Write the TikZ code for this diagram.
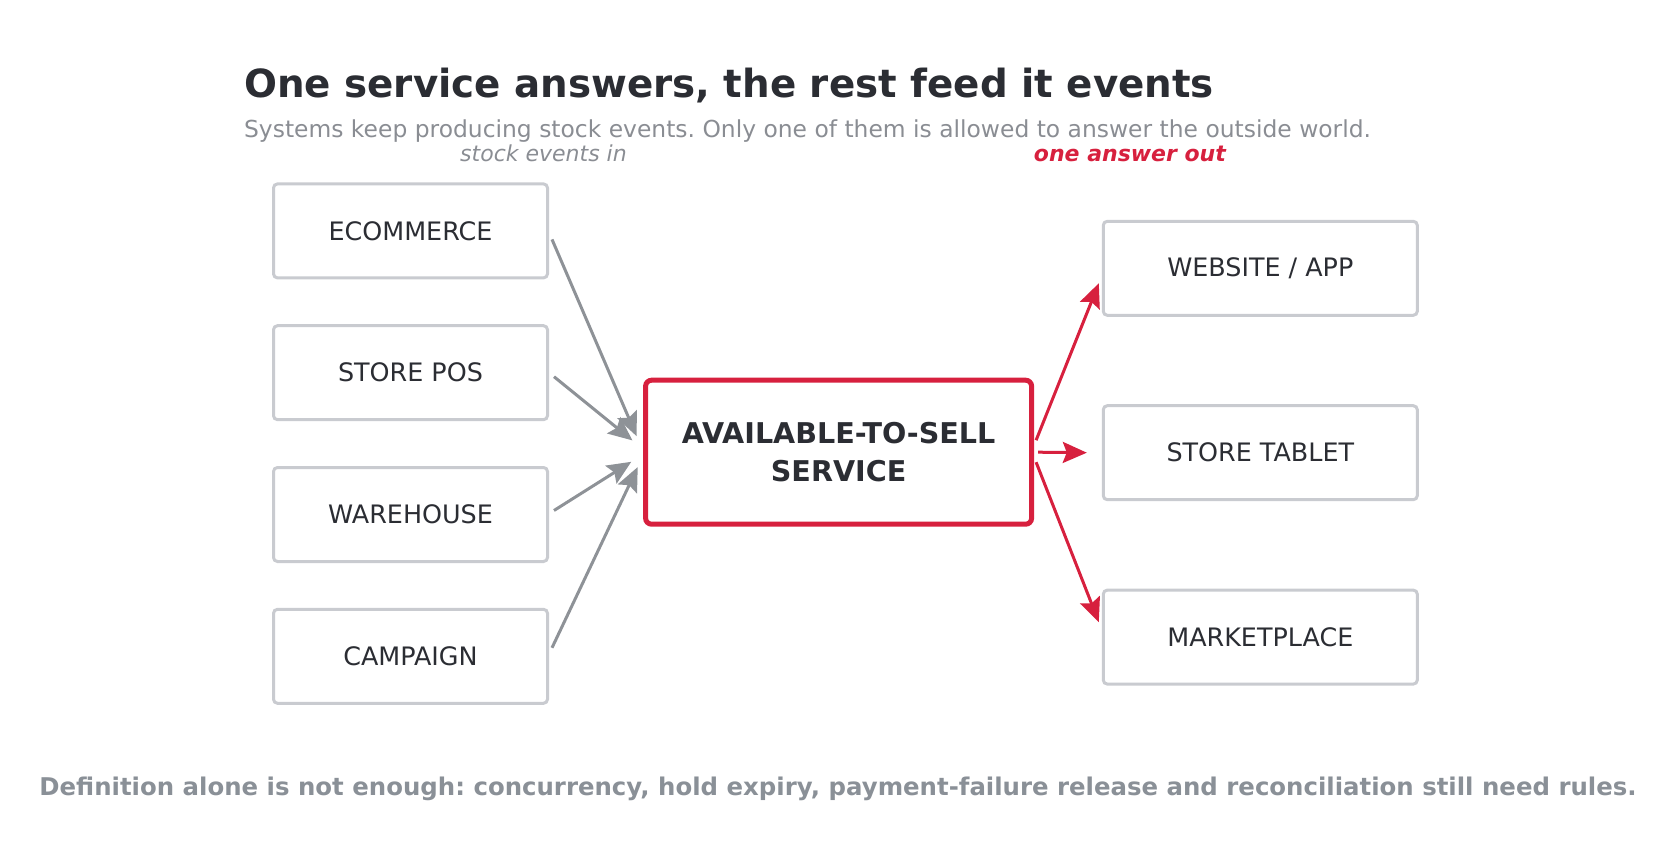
\documentclass[tikz,border=0pt]{standalone}
\usepackage{fontspec}
\setmainfont{DejaVu Sans}
\frenchspacing
\usetikzlibrary{positioning, arrows.meta, calc}
\definecolor{inkdark}{HTML}{2B2D33}
\definecolor{subgray}{HTML}{8A8D93}
\definecolor{notegray}{HTML}{8A9097}
\definecolor{boxgray}{HTML}{C9CBD0}
\definecolor{flowgray}{HTML}{8E9297}
\definecolor{atsred}{HTML}{D7203E}
\tikzset{
    src/.style={rectangle, rounded corners=2pt, draw=boxgray, fill=white, line width=1.5pt, minimum width=137pt, minimum height=47pt, text=inkdark, font=\fontsize{12.7}{15}\selectfont},
    dst/.style={src, minimum width=157pt},
    hub/.style={rectangle, rounded corners=3pt, draw=atsred, fill=white, line width=2.5pt, minimum width=193pt, minimum height=72pt, text=inkdark, align=center, font=\bfseries\fontsize{14.3}{19.2}\selectfont},
    feed/.style={-{Stealth[length=12pt,width=10.5pt,inset=2pt]}, color=flowgray, line width=1.5pt},
    answer/.style={feed, color=atsred},
}

\begin{document}
\begin{tikzpicture}[x=0.5pt, y=-0.5pt]
        \useasboundingbox (0,0) rectangle (1676,856);
        % headings
        \node [anchor=base west, inner sep=0pt, text=inkdark, font=\bfseries\fontsize{19.4}{23}\selectfont] (title) at (243.7,97.3) {One service answers, the rest feed it events};
        \node [anchor=base west, inner sep=0pt, text=subgray, font=\fontsize{11.7}{14}\selectfont] (subtitle) at (243.7,137.9) {Systems keep producing stock events. Only one of them is allowed to answer the outside world.};
        \node [anchor=base, text=subgray, font=\itshape\fontsize{11}{13}\selectfont] (inlabel) at (543.5,161.4) {stock events in};
        \node [anchor=base, text=atsred, font=\bfseries\itshape\fontsize{11}{13}\selectfont] (outlabel) at (1129.9,161.4) {one answer out};
        % sources
        \node [src] (ecom) at (410.5,230.9) {ECOMMERCE};
        \node [src] (pos) [below=22.4pt of ecom] {STORE POS};
        \node [src] (wh) [below=22.4pt of pos] {WAREHOUSE};
        \node [src] (camp) [below=22.4pt of wh] {CAMPAIGN};
        % service
        \node [hub] (ats) at (838.6,452.2) {AVAILABLE-TO-SELL\\SERVICE};
        % consumers
        \node [dst] (web) at (1260.3,268.3) {WEBSITE / APP};
        \node [dst] (tab) [below=43.7pt of web] {STORE TABLET};
        \node [dst] (mkt) [below=43.7pt of tab] {MARKETPLACE};
        \draw [feed] ($(ecom.east)+(3,8.5)$) -- ($(ats.west)+(-6.5,-16)$);
        \draw [feed] ($(pos.east)+(5,4)$) -- ($(ats.west)+(-10.7,-11.8)$);
        \draw [feed] ($(wh.east)+(5,-4)$) -- ($(ats.west)+(-11.8,9.6)$);
        \draw [feed] ($(camp.east)+(3,-8.5)$) -- ($(ats.west)+(-5.4,14.9)$);
        \draw [answer] ($(ats.east)+(2,-12)$) -- ($(web.west)+(-3,15)$);
        \draw [answer] ($(ats.east)+(4,0)$) -- ($(tab.west)+(-15,0)$);
        \draw [answer] ($(ats.east)+(2,10)$) -- ($(mkt.west)+(-3,-15)$);
        % footnote
        \node [anchor=base, text=notegray, font=\bfseries\fontsize{12.2}{15}\selectfont] (note) at (838,795) {Definition alone is not enough: concurrency, hold expiry, payment-failure release and reconciliation still need rules.};
    \end{tikzpicture}
\end{document}
